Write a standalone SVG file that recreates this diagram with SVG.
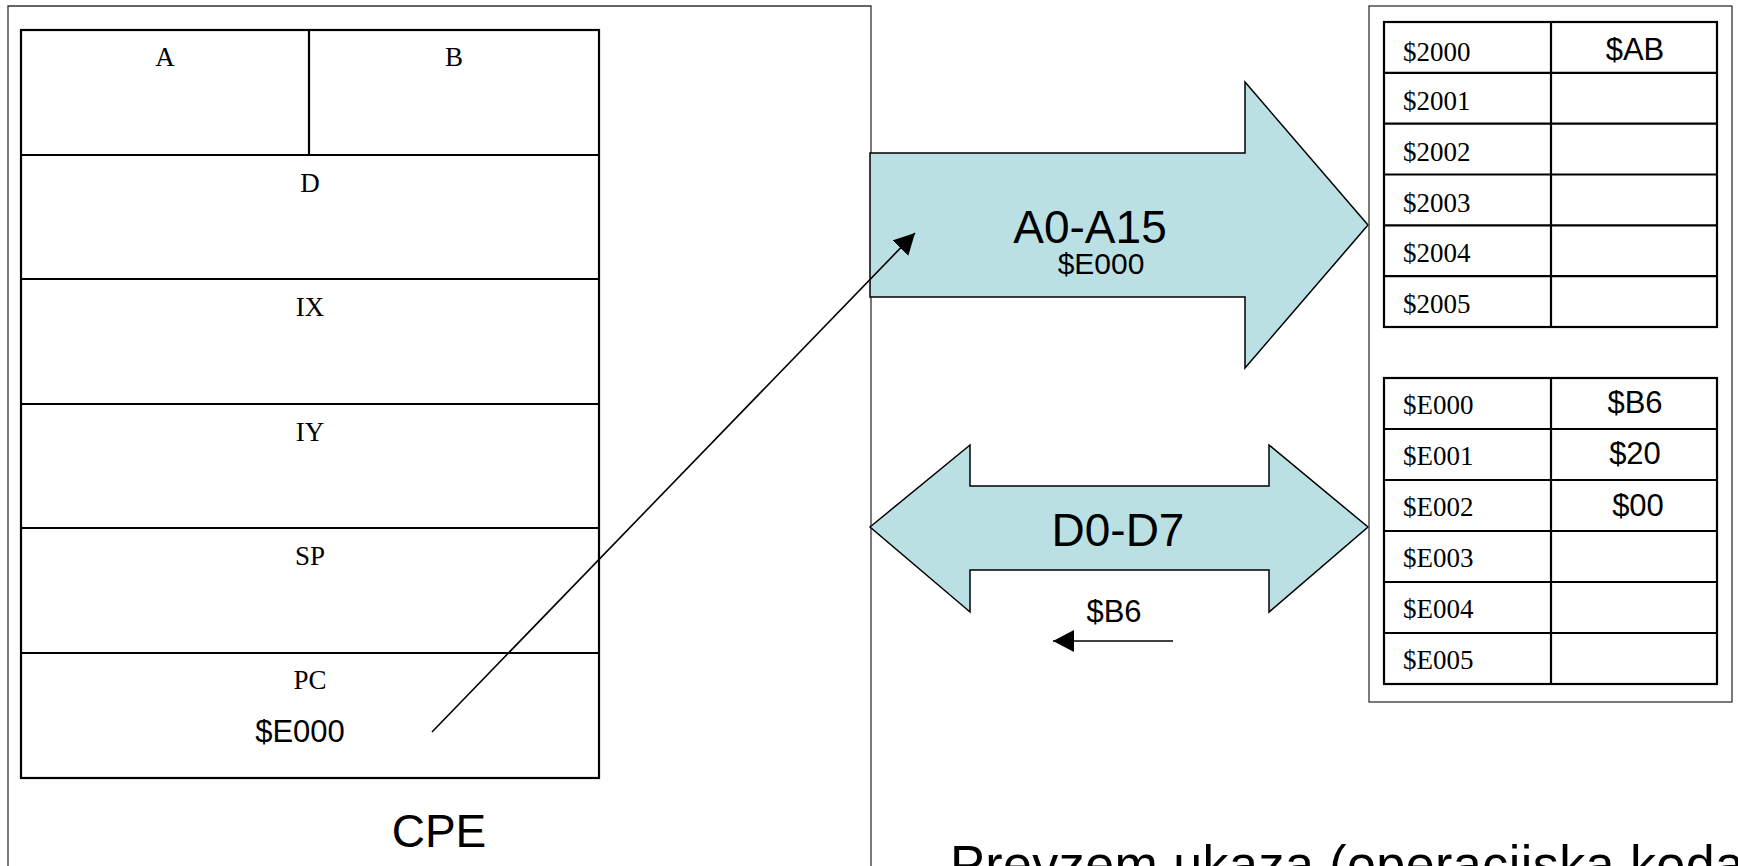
<svg xmlns="http://www.w3.org/2000/svg" width="1738" height="866" viewBox="0 0 1738 866">
<style>
.frame{fill:none;stroke:#333;stroke-width:1.3}
.grid{fill:none;stroke:#000;stroke-width:2.2}
.bus{fill:#BBE0E3;stroke:#000;stroke-width:1.5;stroke-linejoin:miter}
.tn{font-family:"Liberation Serif","Times New Roman",serif;font-size:27px;fill:#000}
.ts{font-family:"Liberation Sans",Arial,sans-serif;fill:#000}
.ctr{text-anchor:middle}
.conn{stroke:#000;stroke-width:1.6;fill:none}
</style>
<defs>
<marker id="ah" markerUnits="userSpaceOnUse" markerWidth="22" markerHeight="22" viewBox="0 0 22 22" refX="21" refY="11" orient="auto">
<path d="M0,0 L21,11 L0,22 z" fill="#000"/>
</marker>
</defs>
<rect width="1738" height="866" fill="#fff"/>

<g id="cpe">
<path class="frame" d="M8,880 V6 H871 V880"/>
<text class="ts ctr" x="439" y="847" font-size="46">CPE</text>
</g>

<g id="registers">
<rect class="grid" x="21" y="30" width="578" height="748"/>
<line class="grid" x1="309" y1="30" x2="309" y2="155"/>
<line class="grid" x1="21" y1="155" x2="599" y2="155"/>
<line class="grid" x1="21" y1="279" x2="599" y2="279"/>
<line class="grid" x1="21" y1="404" x2="599" y2="404"/>
<line class="grid" x1="21" y1="528" x2="599" y2="528"/>
<line class="grid" x1="21" y1="653" x2="599" y2="653"/>
</g>
<g id="reg-a"><text class="tn ctr" x="165" y="66">A</text></g>
<g id="reg-b"><text class="tn ctr" x="454" y="66">B</text></g>
<g id="reg-d"><text class="tn ctr" x="310" y="192">D</text></g>
<g id="reg-ix"><text class="tn ctr" x="310" y="316">IX</text></g>
<g id="reg-iy"><text class="tn ctr" x="310" y="441">IY</text></g>
<g id="reg-sp"><text class="tn ctr" x="310" y="565">SP</text></g>
<g id="reg-pc">
<text class="tn ctr" x="310" y="689">PC</text>
<text class="ts ctr" x="300" y="742" font-size="31">$E000</text>
</g>

<g id="address-bus">
<polygon class="bus" points="870,153 1245,153 1245,82 1368,225 1245,368 1245,297 870,297"/>
<text class="ts ctr" x="1090" y="243" font-size="46">A0-A15</text>
<text class="ts ctr" x="1101" y="274" font-size="30">$E000</text>
</g>

<g id="data-bus">
<polygon class="bus" points="870,527 970,445 970,486 1269,486 1269,445 1368,527 1269,612 1269,570 970,570 970,612"/>
<text class="ts ctr" x="1118" y="546" font-size="46">D0-D7</text>
<text class="ts ctr" x="1114" y="622" font-size="31">$B6</text>
</g>

<g id="memory">
<rect class="frame" x="1369" y="6" width="363" height="696"/>
<g id="mem-table-2000">
<rect class="grid" x="1384" y="22" width="333" height="305"/>
<line class="grid" x1="1551" y1="22" x2="1551" y2="327"/>
<line class="grid" x1="1384" y1="72.8" x2="1717" y2="72.8"/>
<line class="grid" x1="1384" y1="123.7" x2="1717" y2="123.7"/>
<line class="grid" x1="1384" y1="174.5" x2="1717" y2="174.5"/>
<line class="grid" x1="1384" y1="225.3" x2="1717" y2="225.3"/>
<line class="grid" x1="1384" y1="276.2" x2="1717" y2="276.2"/>
<text class="tn" x="1403" y="61">$2000</text>
<text class="tn" x="1403" y="110">$2001</text>
<text class="tn" x="1403" y="161">$2002</text>
<text class="tn" x="1403" y="212">$2003</text>
<text class="tn" x="1403" y="262">$2004</text>
<text class="tn" x="1403" y="313">$2005</text>
<text class="ts ctr" x="1635" y="60" font-size="31">$AB</text>
</g>
<g id="mem-table-e000">
<rect class="grid" x="1384" y="378" width="333" height="306"/>
<line class="grid" x1="1551" y1="378" x2="1551" y2="684"/>
<line class="grid" x1="1384" y1="429" x2="1717" y2="429"/>
<line class="grid" x1="1384" y1="480" x2="1717" y2="480"/>
<line class="grid" x1="1384" y1="531" x2="1717" y2="531"/>
<line class="grid" x1="1384" y1="582" x2="1717" y2="582"/>
<line class="grid" x1="1384" y1="633" x2="1717" y2="633"/>
<text class="tn" x="1403" y="414">$E000</text>
<text class="tn" x="1403" y="465">$E001</text>
<text class="tn" x="1403" y="516">$E002</text>
<text class="tn" x="1403" y="567">$E003</text>
<text class="tn" x="1403" y="618">$E004</text>
<text class="tn" x="1403" y="669">$E005</text>
<text class="ts ctr" x="1635" y="413" font-size="31">$B6</text>
<text class="ts ctr" x="1635" y="464" font-size="31">$20</text>
<text class="ts ctr" x="1638" y="516" font-size="31">$00</text>
</g>
</g>

<g id="connectors">
<line class="conn" x1="432" y1="732" x2="915" y2="233" marker-end="url(#ah)"/>
<line class="conn" x1="1173" y1="641" x2="1053" y2="641" marker-end="url(#ah)"/>
</g>

<g id="caption">
<text class="ts" x="950" y="882" font-size="52" textLength="794" lengthAdjust="spacing">Prevzem ukaza (operacijska koda</text>
</g>
</svg>
